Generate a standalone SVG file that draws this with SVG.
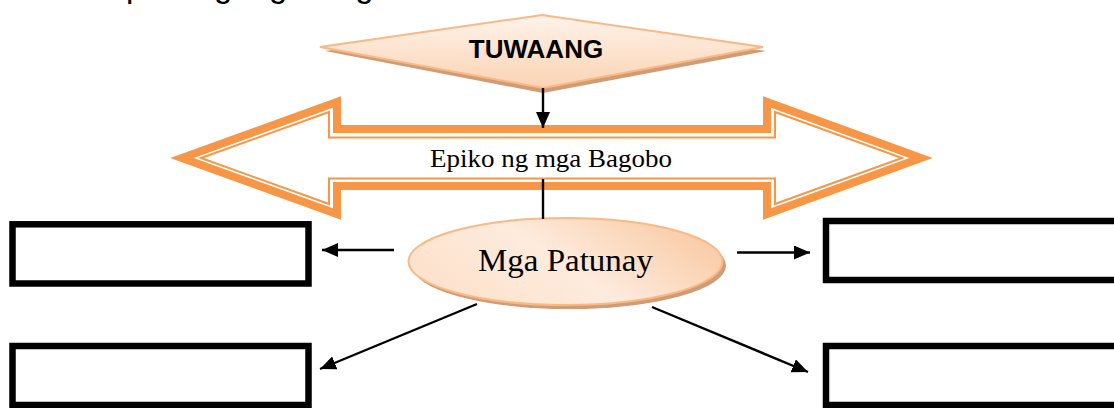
<svg xmlns="http://www.w3.org/2000/svg" width="1114" height="408" viewBox="0 0 1114 408">
  <defs>
    <style>
      .box { fill: #ffffff; stroke: #000000; stroke-width: 6.5; }
      .conn { stroke: #000000; stroke-width: 2.4; fill: none; }
      .peach { stroke: #fab984; stroke-width: 2; }
      .shadow { fill: #d09c75; }
      .orange { fill: #ffffff; stroke: #f79646; stroke-linejoin: miter; }
      .serif { font-family: "Liberation Serif", "Times New Roman", serif; fill: #000000; }
      .sans { font-family: "Liberation Sans", Arial, sans-serif; fill: #000000; }
    </style>
    <linearGradient id="gDiamond" x1="0" y1="0" x2="0" y2="1">
      <stop offset="0" stop-color="#fef3ea"/>
      <stop offset="1" stop-color="#fbd3b3"/>
    </linearGradient>
    <linearGradient id="gEllipse" x1="0" y1="0.6" x2="1" y2="0.2">
      <stop offset="0" stop-color="#fde2cc"/>
      <stop offset="0.45" stop-color="#fdebdd"/>
      <stop offset="1" stop-color="#f9c8a0"/>
    </linearGradient>
    <marker id="arrow" markerUnits="userSpaceOnUse" markerWidth="18" markerHeight="16" refX="16" refY="7" orient="auto">
      <path d="M0,0 L16,7 L0,14 Z" fill="#000000"/>
    </marker>
  </defs>

  <rect width="1114" height="408" fill="#ffffff"/>

  <text class="sans" x="104" y="-3" font-size="33">Epiko ng mga Bagobo</text>

  <g id="tuwaang">
    <polygon class="shadow" points="325,51 543,20 766,51 543,93"/>
    <polygon points="320,47 542,15 763,47 543,88" fill="url(#gDiamond)" class="peach"/>
    <text class="sans" x="536" y="58" font-size="26" font-weight="bold" text-anchor="middle">TUWAANG</text>
  </g>

  <g id="epiko">
    <path class="orange" stroke-width="8" d="M182,158 L337,102 L337,129 L767,129 L767,102 L921,158 L767,214 L767,186 L337,186 L337,214 Z"/>
    <path class="orange" stroke-width="2" d="M201,158 L329,112 L329,137.5 L775,137.5 L775,112 L902,158 L775,204 L775,178.5 L329,178.5 L329,204 Z"/>
    <text class="serif" x="551" y="167" font-size="26" text-anchor="middle" textLength="242" lengthAdjust="spacingAndGlyphs">Epiko ng mga Bagobo</text>
  </g>

  <g id="patunay">
    <ellipse class="shadow" cx="569" cy="265.5" rx="157" ry="43.5"/>
    <ellipse cx="565.5" cy="261.5" rx="157" ry="43.5" fill="url(#gEllipse)" class="peach"/>
    <text class="serif" x="565.5" y="271" font-size="32" text-anchor="middle" textLength="175" lengthAdjust="spacingAndGlyphs">Mga Patunay</text>
  </g>

  <g id="box-top-left"><rect class="box" x="12.5" y="224.3" width="296" height="59.2"/></g>
  <g id="box-top-right"><rect class="box" x="826" y="221" width="320" height="59"/></g>
  <g id="box-bottom-left"><rect class="box" x="12.5" y="346" width="296" height="59"/></g>
  <g id="box-bottom-right"><rect class="box" x="826" y="346" width="320" height="59"/></g>

  <g id="connectors">
    <line class="conn" x1="543" y1="88" x2="543" y2="128" marker-end="url(#arrow)"/>
    <line class="conn" x1="543" y1="179" x2="543" y2="219"/>
    <line class="conn" x1="394" y1="250" x2="322" y2="250" marker-end="url(#arrow)"/>
    <line class="conn" x1="737" y1="252.5" x2="810" y2="252.5" marker-end="url(#arrow)"/>
    <line class="conn" x1="477" y1="304" x2="320" y2="369" marker-end="url(#arrow)"/>
    <line class="conn" x1="652" y1="307" x2="808" y2="372" marker-end="url(#arrow)"/>
  </g>
</svg>
